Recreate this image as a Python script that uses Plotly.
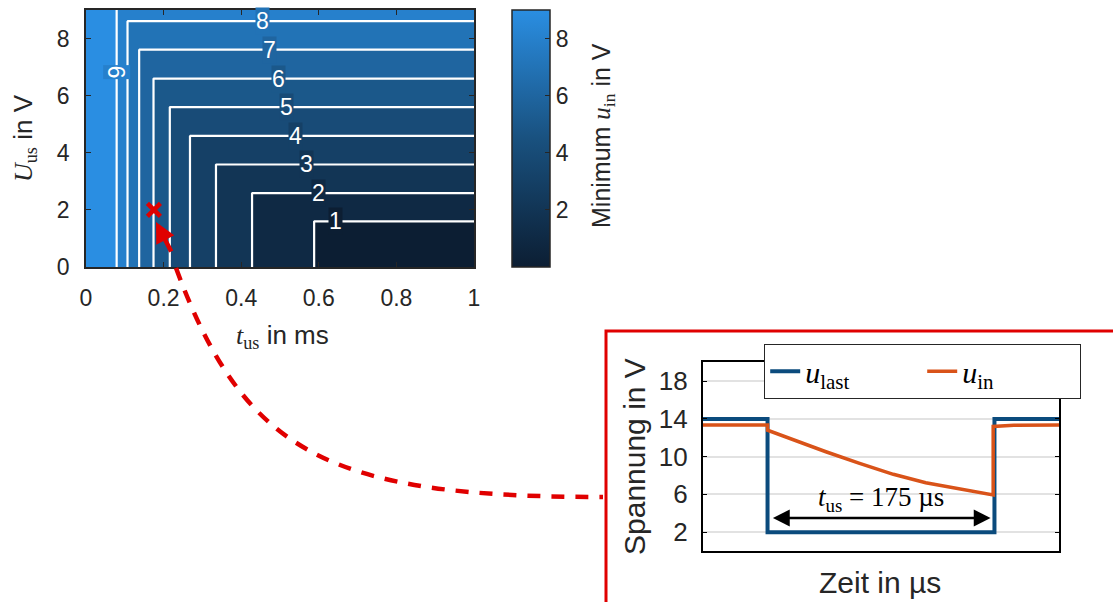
import numpy as np
import plotly.graph_objects as go
from plotly.colors import sample_colorscale

W, H = 1113, 602

# ---------------- data: contour map ----------------
# t_us (ms) where min u_in crosses each level when U_us is low (vertical contour parts)
t_nodes = [0.0, 0.079, 0.107, 0.137, 0.174, 0.216, 0.268, 0.335, 0.428, 0.588, 1.0]
g_vals = [12.7, 9, 8, 7, 6, 5, 4, 3, 2, 1, 0.2]
# U_us (V) where min u_in equals each level when t_us is long (horizontal contour parts)
u_nodes = [0.0, 1.6, 2.59, 3.59, 4.59, 5.6, 6.6, 7.61, 8.61, 9.0]
h_vals = [-0.6, 1, 2, 3, 4, 5, 6, 7, 8, 8.4]
contour_levels = [1, 2, 3, 4, 5, 6, 7, 8, 9]

# contour label positions (t_us, U_us) as seen in the picture
label_levels = [1, 2, 3, 4, 5, 6, 7, 8]
label_t = [0.644, 0.598, 0.567, 0.539, 0.518, 0.497, 0.474, 0.456]
label_u = [1.6, 2.59, 3.59, 4.59, 5.6, 6.6, 7.61, 8.61]
label9_pos = (0.079, 6.83)

# operating point marked with the red cross
op_t = [0.175]
op_u = [2.0]

# ---------------- data: inset waveform ----------------
t_last = [0, 50, 50, 225, 225, 275]
u_last = [14, 14, 2, 2, 14, 14]
t_in = [0, 50, 50, 70, 95, 121, 147, 172, 198, 224, 224, 240, 275]
u_in = [13.35, 13.35, 12.8, 11.76, 10.52, 9.29, 8.13, 7.24, 6.58, 5.95, 13.2, 13.33, 13.35]
inset_yticks = [2, 6, 10, 14, 18]

z = np.maximum.outer(np.array(h_vals), np.array(g_vals))

SANS = "Liberation Sans, Arial, sans-serif"
SERIF = "Liberation Serif, serif"
TXT = "#262626"
RED = "#e00000"

cscale = [[0.0, "#0c1e33"], [0.5, "#19517f"], [1.0, "#2a8ee2"]]


def px(x):
    return x / W


def py(y):
    return 1 - y / H


def serif(s):
    return f"<span style='font-family:Liberation Serif'>{s}</span>"


fig = go.Figure()

fig.add_trace(go.Contour(
    x=t_nodes, y=u_nodes, z=z,
    colorscale=cscale,
    contours=dict(start=contour_levels[0], end=contour_levels[-1], size=1,
                  coloring="fill", showlabels=False),
    line=dict(color="white", width=2.2, smoothing=0),
    showscale=False, hoverinfo="skip",
    xaxis="x", yaxis="y",
))

# continuous colorbar
fig.add_trace(go.Scatter(
    x=[0.5, 0.5], y=[-50, -50], mode="markers",
    marker=dict(color=[0, 9], cmin=0, cmax=9, colorscale=cscale, size=1,
                showscale=True,
                colorbar=dict(
                    x=px(512), xanchor="left", xref="paper", xpad=0,
                    y=py(138.5), yanchor="middle", yref="paper", ypad=0,
                    thickness=38, thicknessmode="pixels",
                    len=257, lenmode="pixels",
                    outlinecolor=TXT, outlinewidth=1.5,
                    ticks="inside", ticklen=5, tickcolor=TXT,
                    tickvals=[2, 4, 6, 8],
                    tickfont=dict(size=23, family=SANS, color=TXT),
                )),
    showlegend=False, hoverinfo="skip", xaxis="x", yaxis="y",
))

fig.add_trace(go.Scatter(
    x=op_t, y=op_u, mode="markers",
    marker=dict(symbol="x-thin", size=13, line=dict(color=RED, width=4.5)),
    showlegend=False, cliponaxis=False, xaxis="x", yaxis="y",
))

# inset traces
fig.add_trace(go.Scatter(
    x=t_last, y=u_last, mode="lines", name="<i>u</i><sub>last</sub>",
    line=dict(color="#0b4b7d", width=4), xaxis="x2", yaxis="y2",
))
fig.add_trace(go.Scatter(
    x=t_in, y=u_in, mode="lines", name="<i>u</i><sub>in</sub>",
    line=dict(color="#d95319", width=3.5), xaxis="x2", yaxis="y2",
))

axis_common = dict(showline=True, linecolor=TXT, linewidth=1.5, mirror="ticks",
                   ticks="inside", ticklen=5, tickcolor=TXT, zeroline=False,
                   tickfont=dict(size=23, family=SANS, color=TXT))

fig.update_layout(
    width=W, height=H, margin=dict(l=0, r=0, t=0, b=0, autoexpand=False),
    paper_bgcolor="white", plot_bgcolor="white",
    xaxis=dict(domain=[px(86), px(474)], range=[0, 1], anchor="y",
               tickvals=[0, 0.2, 0.4, 0.6, 0.8, 1], ticktext=["0", "0.2", "0.4", "0.6", "0.8", "1"],
               showgrid=False, ticklabelstandoff=10, **axis_common),
    yaxis=dict(domain=[py(267), py(10)], range=[0, 9], anchor="x",
               tickvals=[0, 2, 4, 6, 8], showgrid=False, ticklabelstandoff=10, **axis_common),
    xaxis2=dict(domain=[px(702.7), px(1059.3)], range=[0, 275], anchor="y2",
                showline=True, linecolor="black", linewidth=1.5, mirror=True,
                showticklabels=False, ticks="", showgrid=False, zeroline=False),
    yaxis2=dict(domain=[py(551), py(362.3)], range=[0, 20], anchor="x2",
                tickvals=inset_yticks, showgrid=True, gridcolor="#e2e2e2", gridwidth=1.5,
                showline=True, linecolor="black", linewidth=1.5, mirror="ticks",
                ticks="inside", ticklen=5, tickcolor="black", zeroline=False,
                ticklabelstandoff=8,
                tickfont=dict(size=26, family=SANS, color=TXT)),
    legend=dict(x=px(764), y=py(344), xanchor="left", yanchor="top", orientation="h",
                bgcolor="white", bordercolor=TXT, borderwidth=1.2,
                font=dict(family=SERIF, size=30, color="black"),
                entrywidth=112, entrywidthmode="pixels"),
    showlegend=True,
)

# contour labels
for lv, lt, lu in zip(label_levels, label_t, label_u):
    bg = sample_colorscale(cscale, [(lv - 1.0) / 9.0])[0]
    fig.add_annotation(x=lt, y=lu, xref="x", yref="y", text=str(lv), showarrow=False,
                       xanchor="center", yanchor="middle",
                       font=dict(size=23, family=SANS, color="white"),
                       bgcolor=bg, borderpad=0)
bg9 = sample_colorscale(cscale, [8.0 / 9.0])[0]
fig.add_annotation(x=label9_pos[0], y=label9_pos[1], xref="x", yref="y", text="9", showarrow=False,
                   xanchor="center", yanchor="middle",
                   textangle=-90, font=dict(size=23, family=SANS, color="white"),
                   bgcolor=bg9, borderpad=0)

# axis titles
title_kw = dict(xref="paper", yref="paper", showarrow=False, xanchor="center", yanchor="middle")
fig.add_annotation(x=px(282), y=py(336), text=serif("<i>t</i><sub>us</sub>") + " in ms",
                   font=dict(size=26, family=SANS, color=TXT), **title_kw)
fig.add_annotation(x=px(24), y=py(138), textangle=-90, text=serif("<i>U</i><sub>us</sub>") + " in V",
                   font=dict(size=26, family=SANS, color=TXT), **title_kw)
fig.add_annotation(x=px(603), y=py(136), textangle=-90,
                   text="Minimum " + serif("<i>u</i><sub>in</sub>") + " in V",
                   font=dict(size=25, family=SANS, color=TXT), **title_kw)
fig.add_annotation(x=px(634), y=py(457), textangle=-90, text="Spannung in V",
                   font=dict(size=30, family=SANS, color=TXT), **title_kw)
fig.add_annotation(x=px(880), y=py(582), text="Zeit in µs",
                   font=dict(size=30, family=SANS, color=TXT), **title_kw)

# t_us double arrow and label in inset
fig.add_annotation(x=222, y=3.5, ax=53, ay=3.5, xref="x2", yref="y2", axref="x2", ayref="y2",
                   text="", showarrow=True, arrowhead=2, startarrowhead=2, arrowside="end+start",
                   arrowsize=1.4, startarrowsize=1.4, arrowwidth=2.4, arrowcolor="black")
fig.add_annotation(x=137.5, y=5.5, xref="x2", yref="y2", showarrow=False,
                   xanchor="center", yanchor="middle",
                   text="<i>t</i><sub>us</sub> = 175 µs",
                   font=dict(size=27, family=SERIF, color="black"))

# red arrow pointing to operating point
fig.add_annotation(x=px(156), y=py(222), xref="paper", yref="paper", ax=16, ay=31,
                   text="", showarrow=True, arrowhead=2, arrowsize=0.9, arrowwidth=4.5, arrowcolor=RED)

# red dashed connector and red frame
fig.add_shape(type="path", xref="paper", yref="paper",
              path=f"M {px(176)},{py(268)} C {px(245)},{py(455)} {px(330)},{py(497)} {px(603)},{py(497)}",
              line=dict(color=RED, width=4.5, dash="13px,11px"))
fig.add_shape(type="path", xref="paper", yref="paper",
              path=f"M {px(606)},{py(605)} L {px(606)},{py(331)} L {px(1115)},{py(331)}",
              line=dict(color=RED, width=3))

fig.write_html("out.html")
